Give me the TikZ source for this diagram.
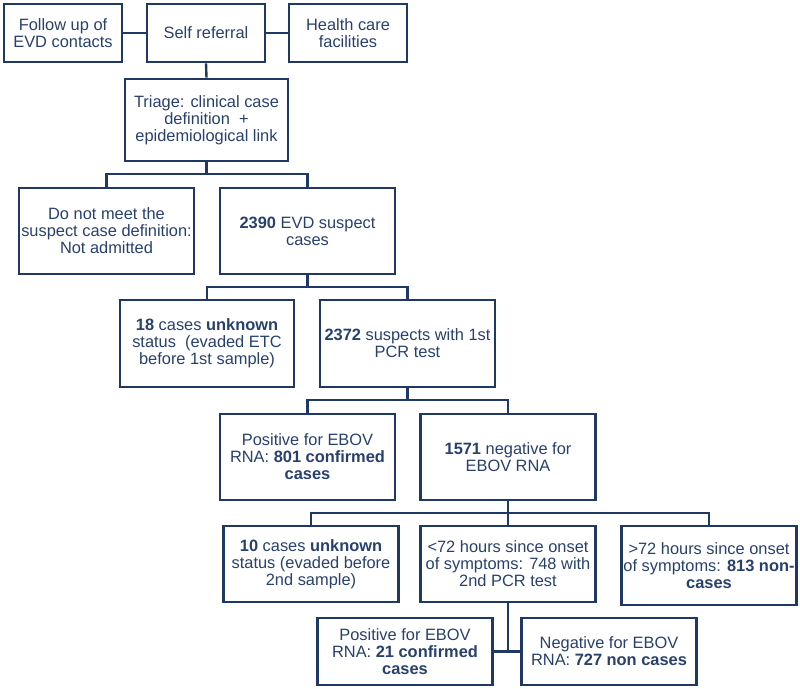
\documentclass[tikz,border=0pt]{standalone}
\usepackage{fontspec}
\setmainfont{Liberation Sans}
\usetikzlibrary{calc}
\definecolor{boxcol}{RGB}{31,56,100}
\definecolor{txtcol}{RGB}{40,64,108}
\begin{document}
\begin{tikzpicture}[x=1pt,y=-1pt,
  box/.style={draw=boxcol, line width=2.6pt, rectangle, inner sep=0pt, align=center,
    text=txtcol, font=\fontsize{16.4}{17}\selectfont},
  conn/.style={draw=boxcol, line width=2.4pt}]
\useasboundingbox (0,0) rectangle (800,688);
% row 1
\node[box, minimum width=118pt, minimum height=58pt] (follow) at (63,33) {Follow up of\\EVD contacts};
\node[box, minimum width=118pt, minimum height=58pt] (self) at (206,33) {Self referral};
\node[box, minimum width=118pt, minimum height=58pt] (health) at (348,33) {Health care\\facilities};
% triage
\node[box, minimum width=163pt, minimum height=82pt] (triage) at (206.5,120) {Triage: clinical case\\definition~~+\\epidemiological link};
% row 3
\node[box, minimum width=175pt, minimum height=86pt] (donot) at (106.5,231) {Do not meet the\\suspect case definition:\\Not admitted};
\node[box, minimum width=175pt, minimum height=86pt] (s2390) at (307.5,231) {\textbf{2390} EVD suspect\\cases};
% row 4
\node[box, minimum width=174pt, minimum height=87pt] (c18) at (207,343.5) {\textbf{18} cases \textbf{unknown}\\status~~(evaded ETC\\before 1st sample)};
\node[box, minimum width=175pt, minimum height=87pt] (s2372) at (407.5,343.5) {\textbf{2372} suspects with 1st\\PCR test};
% row 5
\node[box, minimum width=175pt, minimum height=86pt] (p801) at (307.5,457) {Positive for EBOV\\RNA: \textbf{801 confirmed}\\\textbf{cases}};
\node[box, minimum width=175pt, minimum height=86pt] (n1571) at (508,457) {\textbf{1571} negative for\\EBOV RNA};
% row 6
\node[box, minimum width=175pt, minimum height=76pt] (c10) at (311,564) {\textbf{10} cases \textbf{unknown}\\status (evaded before\\2nd sample)};
\node[box, minimum width=175pt, minimum height=76pt] (lt72) at (508,564) {<72 hours since onset\\of symptoms: 748 with\\2nd PCR test};
\node[box, minimum width=175pt, minimum height=79pt] (gt72) at (709,565.5) {>72 hours since onset\\of symptoms: \textbf{813 non-}\\\textbf{cases}};
% row 7
\node[box, minimum width=175pt, minimum height=67pt] (p21) at (405,651.5) {Positive for EBOV\\RNA: \textbf{21 confirmed}\\\textbf{cases}};
\node[box, minimum width=175pt, minimum height=67pt] (n727) at (609,651.5) {Negative for EBOV\\RNA: \textbf{727 non cases}};
% junctions
\coordinate (j1) at (206.5,174);
\coordinate (j2) at (307.5,287);
\coordinate (j3) at (407.5,400);
\coordinate (j4) at (508,513);
% connectors
\draw[conn] (follow.east) -- (self.west);
\draw[conn] (self.east) -- (health.west);
\draw[conn] (self.south) -- (triage.north);
\draw[conn] (triage.south) -- (j1);
\draw[conn] (donot.north) |- (j1) -| (s2390.north);
\draw[conn] (s2390.south) -- (j2);
\draw[conn] (c18.north) |- (j2) -| (s2372.north);
\draw[conn] (s2372.south) -- (j3);
\draw[conn] (p801.north) |- (j3) -| (n1571.north);
\draw[conn] (n1571.south) -- (lt72.north);
\draw[conn] (c10.north) |- (j4) -| (gt72.north);
\draw[conn] (p21.east) -- (n727.west);
\draw[conn] (lt72.south) -- (lt72.south |- p21.east);
\end{tikzpicture}
\end{document}
